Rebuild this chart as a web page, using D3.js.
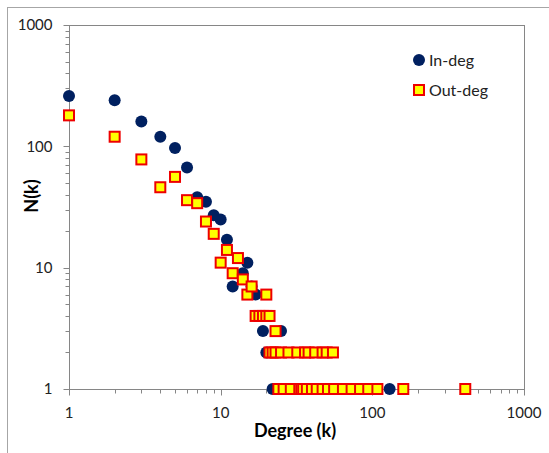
<!DOCTYPE html>
<html>
<head>
<meta charset="utf-8">
<script src="https://cdn.jsdelivr.net/npm/d3@7"></script>
<style>
  body { margin: 0; background: #fff; }
  text { font-family: Lato, "Liberation Sans", sans-serif; }
</style>
</head>
<body>
<div id="chart"></div>
<script>
// In-degree distribution
let inDegK = [1, 2, 3, 4, 5, 6, 7, 8, 9, 10, 11, 12, 14, 15, 16, 17, 19, 20, 22, 25, 130];
let inDegN = [260, 240, 160, 120, 97, 67, 38, 35, 27, 25, 17, 7, 9, 11, 7, 6, 3, 2, 1, 3, 1];

// Out-degree distribution
let outDegK = [1, 2, 3, 4, 5, 6, 7, 8, 9, 10, 11, 12, 13, 14, 15, 16, 20,
    17, 18, 19, 20, 21, 23,
    21, 22, 23, 25, 28, 32, 36, 38, 42, 47, 50, 55,
    24, 26, 29, 33, 34, 35, 37, 40, 43, 47, 51, 56, 64, 73, 83, 94, 108, 160, 410];
let outDegN = [180, 120, 78, 46, 56, 36, 34, 24, 19, 11, 14, 9, 12, 8, 6, 7, 6,
    4, 4, 4, 4, 4, 3,
    2, 2, 2, 2, 2, 2, 2, 2, 2, 2, 2, 2,
    1, 1, 1, 1, 1, 1, 1, 1, 1, 1, 1, 1, 1, 1, 1, 1, 1, 1, 1];

let tickValues = [1, 10, 100, 1000];
let seriesNames = ['In-deg', 'Out-deg'];

let width = 549;
let height = 453;
let plotLeft = 69, plotTop = 25, plotRight = 524, plotBottom = 389;

let svg = d3.select('#chart').append('svg')
    .attr('width', width)
    .attr('height', height);

// outer chart frame
svg.append('rect')
    .attr('x', 7.5).attr('y', 7.5)
    .attr('width', 600).attr('height', 500)
    .attr('fill', 'none')
    .attr('stroke', '#a6a6a6');

let x = d3.scaleLog().domain([1, 1000]).range([plotLeft, plotRight]);
let y = d3.scaleLog().domain([1, 1000]).range([plotBottom, plotTop]);

// minor tick positions 2..9 in each decade
let minor = [];
for (let d = 1; d < 1000; d *= 10) {
    for (let m = 2; m <= 9; m++) minor.push(d * m);
}

let axisColor = '#868686';

// plot border
svg.append('rect')
    .attr('x', plotLeft + 0.5).attr('y', plotTop + 0.5)
    .attr('width', plotRight - plotLeft).attr('height', plotBottom - plotTop)
    .attr('fill', 'none')
    .attr('stroke', axisColor);

// x axis ticks
let xAxis = svg.append('g').attr('transform', 'translate(0,' + (plotBottom + 0.5) + ')');
xAxis.selectAll('line.major').data(tickValues).enter().append('line')
    .attr('x1', d => Math.round(x(d)) + 0.5).attr('x2', d => Math.round(x(d)) + 0.5)
    .attr('y1', 0).attr('y2', 6)
    .attr('stroke', axisColor);
xAxis.selectAll('line.minor').data(minor).enter().append('line')
    .attr('x1', d => Math.round(x(d)) + 0.5).attr('x2', d => Math.round(x(d)) + 0.5)
    .attr('y1', 0).attr('y2', 4)
    .attr('stroke', axisColor);
xAxis.selectAll('text').data(tickValues).enter().append('text')
    .attr('x', d => x(d))
    .attr('y', 28)
    .attr('text-anchor', 'middle')
    .attr('font-size', 15)
    .attr('fill', '#222')
    .text(d => d);

// y axis ticks
let yAxis = svg.append('g').attr('transform', 'translate(' + (plotLeft + 0.5) + ',0)');
yAxis.selectAll('line.major').data(tickValues).enter().append('line')
    .attr('y1', d => Math.round(y(d)) + 0.5).attr('y2', d => Math.round(y(d)) + 0.5)
    .attr('x1', 0).attr('x2', -6)
    .attr('stroke', axisColor);
yAxis.selectAll('line.minor').data(minor).enter().append('line')
    .attr('y1', d => Math.round(y(d)) + 0.5).attr('y2', d => Math.round(y(d)) + 0.5)
    .attr('x1', 0).attr('x2', -4)
    .attr('stroke', axisColor);
yAxis.selectAll('text').data(tickValues).enter().append('text')
    .attr('x', -17)
    .attr('y', d => y(d))
    .attr('dy', '0.36em')
    .attr('text-anchor', 'end')
    .attr('font-size', 15)
    .attr('fill', '#222')
    .text(d => d);

// axis titles
svg.append('text')
    .attr('x', 295).attr('y', 437)
    .attr('text-anchor', 'middle')
    .attr('font-size', 18).attr('font-weight', 'bold')
    .text('Degree (k)');
svg.append('text')
    .attr('transform', 'translate(38,196) rotate(-90)')
    .attr('text-anchor', 'middle')
    .attr('font-size', 18).attr('font-weight', 'bold')
    .text('N(k)');

let inData = inDegK.map((k, i) => ({ k: k, n: inDegN[i] }));
let outData = outDegK.map((k, i) => ({ k: k, n: outDegN[i] }));

// in-degree circles
svg.append('g').selectAll('circle').data(inData).enter().append('circle')
    .attr('cx', d => x(d.k))
    .attr('cy', d => y(d.n))
    .attr('r', 6)
    .attr('fill', '#002060');

// out-degree squares, drawn on top
svg.append('g').selectAll('rect').data(outData).enter().append('rect')
    .attr('x', d => x(d.k) - 5)
    .attr('y', d => y(d.n) - 5)
    .attr('width', 10).attr('height', 10)
    .attr('fill', '#ffff00')
    .attr('stroke', '#ee0000')
    .attr('stroke-width', 2);

// legend
let legend = svg.append('g');
legend.append('circle')
    .attr('cx', 419).attr('cy', 60).attr('r', 6)
    .attr('fill', '#002060');
legend.append('rect')
    .attr('x', 414).attr('y', 85).attr('width', 10).attr('height', 10)
    .attr('fill', '#ffff00').attr('stroke', '#ee0000').attr('stroke-width', 2);
legend.selectAll('text').data(seriesNames).enter().append('text')
    .attr('x', 429)
    .attr('y', (d, i) => 60 + i * 30)
    .attr('dy', '0.36em')
    .attr('font-size', 16)
    .attr('fill', '#222')
    .text(d => d);
</script>
</body>
</html>
